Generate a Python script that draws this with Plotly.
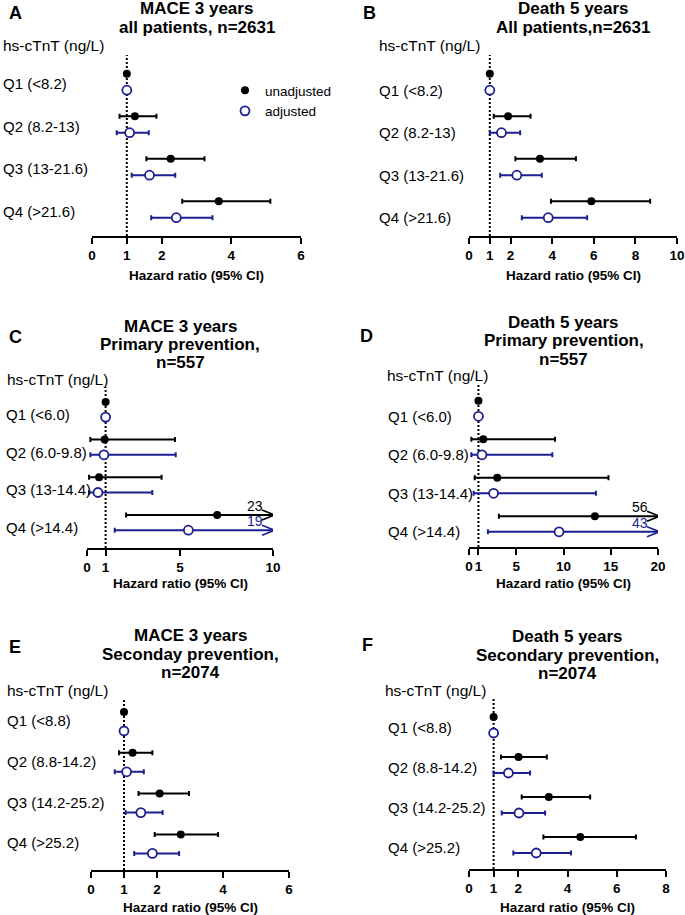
import plotly.graph_objects as go

W, H = 685, 915
BLUE = "#1b1f8f"
FONT = "Liberation Sans, Arial, sans-serif"

# ---------------- data ----------------
A_labels = ["Q1 (<8.2)", "Q2 (8.2-13)", "Q3 (13-21.6)", "Q4 (>21.6)"]
A_unadj_hr = [1.0, 1.23, 2.26, 3.64]
A_unadj_lo = [None, 0.79, 1.56, 2.59]
A_unadj_hi = [None, 1.85, 3.23, 5.12]
A_adj_hr = [1.0, 1.08, 1.65, 2.42]
A_adj_lo = [None, 0.71, 1.14, 1.70]
A_adj_hi = [None, 1.63, 2.39, 3.46]
A_ticks = [0, 1, 2, 4, 6]

B_labels = ["Q1 (<8.2)", "Q2 (8.2-13)", "Q3 (13-21.6)", "Q4 (>21.6)"]
B_unadj_hr = [1.0, 1.88, 3.41, 5.88]
B_unadj_lo = [None, 1.19, 2.23, 3.94]
B_unadj_hi = [None, 2.96, 5.14, 8.71]
B_adj_hr = [1.0, 1.56, 2.30, 3.81]
B_adj_lo = [None, 1.00, 1.50, 2.54]
B_adj_hi = [None, 2.46, 3.50, 5.68]
B_ticks = [0, 1, 2, 4, 6, 8, 10]

C_labels = ["Q1 (<6.0)", "Q2 (6.0-9.8)", "Q3 (13-14.4)", "Q4 (>14.4)"]
C_unadj_hr = [1.0, 0.95, 0.65, 7.00]
C_unadj_lo = [None, 0.18, 0.11, 2.10]
C_unadj_hi = [None, 4.73, 4.01, 23]
C_adj_hr = [1.0, 0.91, 0.59, 5.45]
C_adj_lo = [None, 0.18, 0.11, 1.49]
C_adj_hi = [None, 4.77, 3.51, 19]
C_ticks = [0, 1, 5, 10]

D_labels = ["Q1 (<6.0)", "Q2 (6.0-9.8)", "Q3 (13-14.4)", "Q4 (>14.4)"]
D_unadj_hr = [1.0, 1.51, 2.99, 13.32]
D_unadj_lo = [None, 0.25, 0.60, 3.16]
D_unadj_hi = [None, 9.10, 14.76, 56]
D_adj_hr = [1.0, 1.37, 2.60, 9.53]
D_adj_lo = [None, 0.25, 0.49, 2.00]
D_adj_hi = [None, 8.82, 13.43, 43]
D_ticks = [0, 1, 5, 10, 15, 20]

E_labels = ["Q1 (<8.8)", "Q2 (8.8-14.2)", "Q3 (14.2-25.2)", "Q4 (>25.2)"]
E_unadj_hr = [1.0, 1.26, 2.08, 2.72]
E_unadj_lo = [None, 0.85, 1.44, 1.93]
E_unadj_hi = [None, 1.86, 2.97, 3.85]
E_adj_hr = [1.0, 1.08, 1.51, 1.86]
E_adj_lo = [None, 0.72, 1.05, 1.31]
E_adj_hi = [None, 1.60, 2.17, 2.67]
E_ticks = [0, 1, 2, 4, 6]

F_labels = ["Q1 (<8.8)", "Q2 (8.8-14.2)", "Q3 (14.2-25.2)", "Q4 (>25.2)"]
F_unadj_hr = [1.0, 2.01, 3.24, 4.52]
F_unadj_lo = [None, 1.30, 2.14, 3.02]
F_unadj_hi = [None, 3.16, 4.92, 6.78]
F_adj_hr = [1.0, 1.60, 2.03, 2.73]
F_adj_lo = [None, 1.00, 1.33, 1.80]
F_adj_hi = [None, 2.48, 3.09, 4.14]
F_ticks = [0, 1, 2, 4, 6, 8]

A_title = ["MACE 3 years", "all patients, n=2631"]
B_title = ["Death 5 years", "All patients,n=2631"]
C_title = ["MACE 3 years", "Primary prevention,", "n=557"]
D_title = ["Death 5 years", "Primary prevention,", "n=557"]
E_title = ["MACE 3 years", "Seconday prevention,", "n=2074"]
F_title = ["Death 5 years", "Secondary prevention,", "n=2074"]

# ---------------- layout (pixel geometry) ----------------
panels = [
    dict(letter="A", titles=A_title, labels=A_labels, ticks=A_ticks,
         ua=(A_unadj_hr, A_unadj_lo, A_unadj_hi), ad=(A_adj_hr, A_adj_lo, A_adj_hi),
         x0=92, x1=301, top=55, bottom=236, c0=82, s=42.5, d=8.2,
         lab_x=1, lab_off=2, hs=(1, 45), let=(7, 13), ty=[9, 28], aty=275),
    dict(letter="B", titles=B_title, labels=B_labels, ticks=B_ticks,
         ua=(B_unadj_hr, B_unadj_lo, B_unadj_hi), ad=(B_adj_hr, B_adj_lo, B_adj_hi),
         x0=469, x1=677, top=55, bottom=236, c0=82, s=42.5, d=8.2,
         lab_x=377, lab_off=8.5, hs=(377, 45), let=(361, 13), ty=[9, 28], aty=275),
    dict(letter="C", titles=C_title, labels=C_labels, ticks=C_ticks,
         ua=(C_unadj_hr, C_unadj_lo, C_unadj_hi), ad=(C_adj_hr, C_adj_lo, C_adj_hi),
         x0=87, x1=273, top=387, bottom=548, c0=409.5, s=37.7, d=7.6,
         lab_x=4, lab_off=5, hs=(5, 379), let=(7, 337), ty=[326, 344.5, 363], aty=583),
    dict(letter="D", titles=D_title, labels=D_labels, ticks=D_ticks,
         ua=(D_unadj_hr, D_unadj_lo, D_unadj_hi), ad=(D_adj_hr, D_adj_lo, D_adj_hi),
         x0=469, x1=658, top=383, bottom=547, c0=408.5, s=38.5, d=7.8,
         lab_x=386, lab_off=7.5, hs=(385, 376), let=(358, 336), ty=[322, 340.5, 359], aty=583),
    dict(letter="E", titles=E_title, labels=E_labels, ticks=E_ticks,
         ua=(E_unadj_hr, E_unadj_lo, E_unadj_hi), ad=(E_adj_hr, E_adj_lo, E_adj_hi),
         x0=91, x1=289, top=698, bottom=870, c0=721.5, s=40.8, d=9.5,
         lab_x=5, lab_off=-1, hs=(5, 690), let=(7, 647), ty=[635, 654, 672.5], aty=907),
    dict(letter="F", titles=F_title, labels=F_labels, ticks=F_ticks,
         ua=(F_unadj_hr, F_unadj_lo, F_unadj_hi), ad=(F_adj_hr, F_adj_lo, F_adj_hi),
         x0=469, x1=666, top=698, bottom=869, c0=725, s=40, d=8,
         lab_x=386, lab_off=2.5, hs=(383, 690), let=(360, 645), ty=[636, 655, 673.5], aty=907),
]


def fx(px):
    return px / W


def fy(py):
    return 1 - py / H


fig = go.Figure()
annotations = []
shapes = []
layout_axes = {}

for i, p in enumerate(panels, start=1):
    sfx = "" if i == 1 else str(i)
    xr, yr = f"x{sfx}", f"y{sfx}"
    xmax = p["ticks"][-1]
    off = p["d"] / p["s"]
    n = len(p["labels"])

    for kind, (hr, lo, hi) in (("unadjusted", p["ua"]), ("adjusted", p["ad"])):
        yv = [k + (off if kind == "adjusted" else -off) for k in range(n)]
        plus = [None if h is None else h - v for h, v in zip(hi, hr)]
        minus = [None if l is None else v - l for l, v in zip(lo, hr)]
        color = "black" if kind == "unadjusted" else BLUE
        if kind == "unadjusted":
            marker = dict(symbol="circle", size=8, color="black", line=dict(width=0))
        else:
            marker = dict(symbol="circle", size=9, color="white",
                          line=dict(width=1.8, color=BLUE))
        fig.add_trace(go.Scatter(
            x=hr, y=yv, mode="markers", name=kind, marker=marker,
            error_x=dict(type="data", symmetric=False, array=plus, arrayminus=minus,
                         color=color, thickness=2, width=2.5),
            xaxis=xr, yaxis=yr, showlegend=(i == 1), cliponaxis=True,
        ))
        # truncated confidence limits: chevron + value label
        for k in range(n):
            if hi[k] is not None and hi[k] > xmax:
                pxu = (p["x1"] - p["x0"]) / xmax
                dxu = 11 / pxu
                tip = 1.5 / pxu
                dyu = 5 / p["s"]
                fig.add_trace(go.Scatter(
                    x=[xmax - dxu, xmax + tip, xmax - dxu],
                    y=[yv[k] - dyu, yv[k], yv[k] + dyu],
                    mode="lines", line=dict(color=color, width=1.6),
                    xaxis=xr, yaxis=yr, showlegend=False, cliponaxis=False,
                    hoverinfo="skip"))
                annotations.append(dict(
                    x=xmax, y=yv[k], xref=xr, yref=yr, text=f"{hi[k]:g}",
                    showarrow=False, xanchor="right", yanchor="middle",
                    xshift=-8, yshift=9,
                    font=dict(family=FONT, size=14, color=color)))

    layout_axes[f"xaxis{sfx}"] = dict(
        domain=[fx(p["x0"]), fx(p["x1"])], range=[0, xmax], anchor=yr,
        tickvals=p["ticks"], ticktext=[str(t) for t in p["ticks"]],
        showline=True, linewidth=2, linecolor="black",
        ticks="outside", ticklen=6, tickwidth=2, tickcolor="black",
        tickangle=0, automargin=False,
        tickfont=dict(family=FONT, size=13.5, color="black", weight="bold"),
        showgrid=False, zeroline=False, fixedrange=True)
    layout_axes[f"yaxis{sfx}"] = dict(
        domain=[fy(p["bottom"]), fy(p["top"])],
        range=[(p["bottom"] - p["c0"]) / p["s"], (p["top"] - p["c0"]) / p["s"]],
        anchor=xr, visible=False, showgrid=False, zeroline=False, fixedrange=True,
        automargin=False)

    # reference line at HR = 1
    shapes.append(dict(type="line", xref=xr, yref=f"{yr} domain",
                       x0=1, x1=1, y0=0, y1=1, layer="below",
                       line=dict(color="black", width=2, dash="2px,2px")))

    # row labels
    for k, lab in enumerate(p["labels"]):
        annotations.append(dict(
            x=fx(p["lab_x"]), y=k + p["lab_off"] / p["s"], xref="paper", yref=yr,
            text=lab, showarrow=False, xanchor="left", yanchor="middle",
            font=dict(family=FONT, size=15, color="black")))
    annotations.append(dict(
        x=fx(p["hs"][0]), y=fy(p["hs"][1]), xref="paper", yref="paper",
        text="hs-cTnT (ng/L)", showarrow=False, xanchor="left", yanchor="middle",
        font=dict(family=FONT, size=15.5, color="black")))
    # titles
    xc = fx((p["x0"] + p["x1"]) / 2)
    for line, yy in zip(p["titles"], p["ty"]):
        annotations.append(dict(
            x=xc, y=fy(yy), xref="paper", yref="paper", text=f"<b>{line}</b>",
            showarrow=False, xanchor="center", yanchor="middle",
            font=dict(family=FONT, size=17, color="black")))
    annotations.append(dict(
        x=fx(p["let"][0]), y=fy(p["let"][1]), xref="paper", yref="paper",
        text=f"<b>{p['letter']}</b>", showarrow=False, xanchor="left", yanchor="middle",
        font=dict(family=FONT, size=18, color="black")))
    annotations.append(dict(
        x=xc, y=fy(p["aty"]), xref="paper", yref="paper",
        text="<b>Hazard ratio (95% CI)</b>", showarrow=False,
        xanchor="center", yanchor="middle",
        font=dict(family=FONT, size=13.5, color="black")))

fig.update_layout(
    width=W, height=H, margin=dict(l=0, r=0, t=0, b=0, autoexpand=False),
    paper_bgcolor="white", plot_bgcolor="white",
    font=dict(family=FONT, color="black"),
    showlegend=True,
    legend=dict(x=fx(225), y=fy(75), xanchor="left", yanchor="top",
                bgcolor="rgba(0,0,0,0)", font=dict(family=FONT, size=13.5, color="black"),
                tracegroupgap=0, itemclick=False, itemdoubleclick=False),
    annotations=annotations, shapes=shapes,
    **layout_axes,
)

fig.write_html("out.html", config={"displayModeBar": False},
               post_script="document.body.style.margin='0px';document.body.style.overflow='hidden';")
